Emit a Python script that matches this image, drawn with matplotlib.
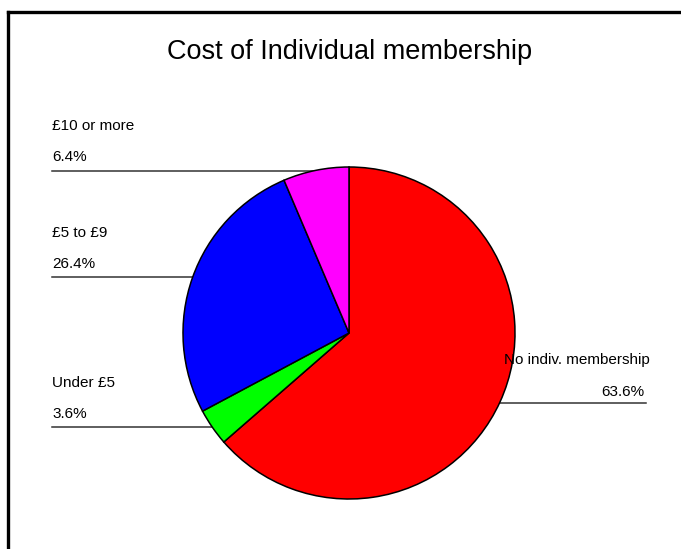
import matplotlib
matplotlib.use("Agg")
import matplotlib.pyplot as plt

plt.rcParams['font.family'] = ['Liberation Sans', 'DejaVu Sans']

# membership cost shares, clockwise from 12 o'clock
categories = ["No indiv. membership", "Under £5", "£5 to £9", "£10 or more"]
shares = [63.6, 3.6, 26.4, 6.4]
colors = ["#ff0000", "#00ff00", "#0000ff", "#ff00ff"]

W, H = 681, 549
fig = plt.figure(figsize=(W / 100, H / 100), dpi=100)
ax = fig.add_axes([0, 0, 1, 1])

# frame (left and top edges only show)
ax.plot([8, 8], [0, H - 12], color="black", lw=2.4, solid_capstyle="projecting")
ax.plot([8, W], [H - 12, H - 12], color="black", lw=2.4, solid_capstyle="projecting")

cx, cy, r = 349, H - 333, 166
wedges, _ = ax.pie(shares, colors=colors, startangle=90, counterclock=False,
                   center=(cx, cy), radius=r, frame=True,
                   wedgeprops=dict(edgecolor="black", linewidth=1.1))
for w in wedges:
    w.set_zorder(3)
ax.set_xlim(0, W)
ax.set_ylim(0, H)
ax.set_aspect("equal")
ax.axis("off")

ax.text(350, H - 52, "Cost of Individual membership", ha="center", va="center",
        fontsize=19.5)

# label blocks: (name y, value y, line y) in pixels from top
left_labels = {
    "£10 or more": (126, 157, 171),
    "£5 to £9": (233, 264, 277),
    "Under £5": (383, 414, 427),
}
fs = 11
lc = "#333333"
for cat, (ny, vy, ly) in left_labels.items():
    i = categories.index(cat)
    ax.text(52, H - ny, cat, ha="left", va="center", fontsize=fs)
    ax.text(52, H - vy, f"{shares[i]}%", ha="left", va="center", fontsize=fs)
    ax.plot([52, cx], [H - ly, H - ly], color=lc, lw=1.1, zorder=1)

ax.text(650, H - 360, categories[0], ha="right", va="center", fontsize=fs, zorder=5)
ax.text(644, H - 392, f"{shares[0]}%", ha="right", va="center", fontsize=fs)
ax.plot([cx, 646], [H - 403, H - 403], color=lc, lw=1.1, zorder=1)

fig.savefig("out.png", dpi=100)
